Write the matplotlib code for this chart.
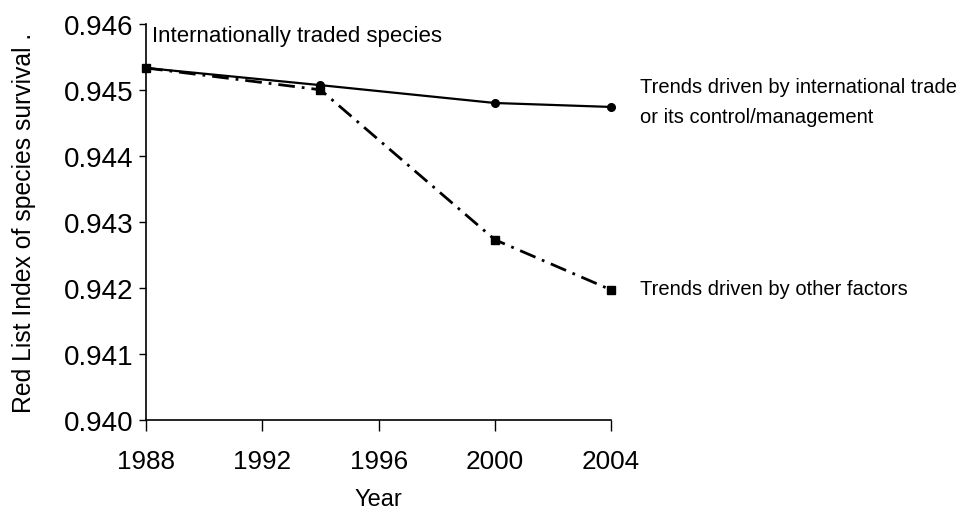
import matplotlib.pyplot as plt

plt.rcParams['font.family'] = ['Liberation Sans', 'DejaVu Sans']

years = [1988, 1994, 2000, 2004]
trade_driven = [0.94533, 0.94507, 0.94480, 0.94474]
other_factors = [0.94533, 0.94500, 0.94273, 0.94197]
xticks = [1988, 1992, 1996, 2000, 2004]
yticks = [0.940, 0.941, 0.942, 0.943, 0.944, 0.945, 0.946]

fig = plt.figure(figsize=(9.67, 5.10), dpi=100)
ax = fig.add_axes([0.151, 0.1745, 0.481, 0.777])

# solid line: trends driven by trade
ax.plot(years, trade_driven, color='black', lw=1.6, marker='o', ms=5.5,
        clip_on=False, zorder=3)
# dash-dot line: other factors
ax.plot(years, other_factors, color='black', lw=2.0, marker='s', ms=5.5,
        dashes=(6, 2.5, 1, 2.5), clip_on=False, zorder=4)

ax.set_xlim(1988, 2004)
ax.set_ylim(0.940, 0.946)
ax.set_xticks(xticks)
ax.set_yticks(yticks)
ax.set_yticklabels([f"{v:.3f}" for v in yticks])
ax.tick_params(axis='both', labelsize=20, direction='out', width=1)
ax.tick_params(axis='x', labelsize=18.8, length=8, pad=13)
ax.tick_params(axis='y', length=5, pad=4)

for side in ['top', 'right']:
  ax.spines[side].set_visible(False)
for side in ['left', 'bottom']:
  ax.spines[side].set_linewidth(1.2)

ax.set_xlabel('Year', fontsize=17, labelpad=11)
ax.set_ylabel('Red List Index of species survival .', fontsize=17.8, labelpad=20)

ax.text(0.013, 0.97, 'Internationally traded species', transform=ax.transAxes,
        fontsize=16, va='center', ha='left')
ax.text(1.062, 0.804, 'Trends driven by international trade\nor its control/management',
        transform=ax.transAxes, fontsize=14.5, va='center', ha='left', linespacing=1.75)
ax.text(1.062, 0.333, 'Trends driven by other factors', transform=ax.transAxes,
        fontsize=14.5, va='center', ha='left')

fig.savefig('out.png', dpi=100)
